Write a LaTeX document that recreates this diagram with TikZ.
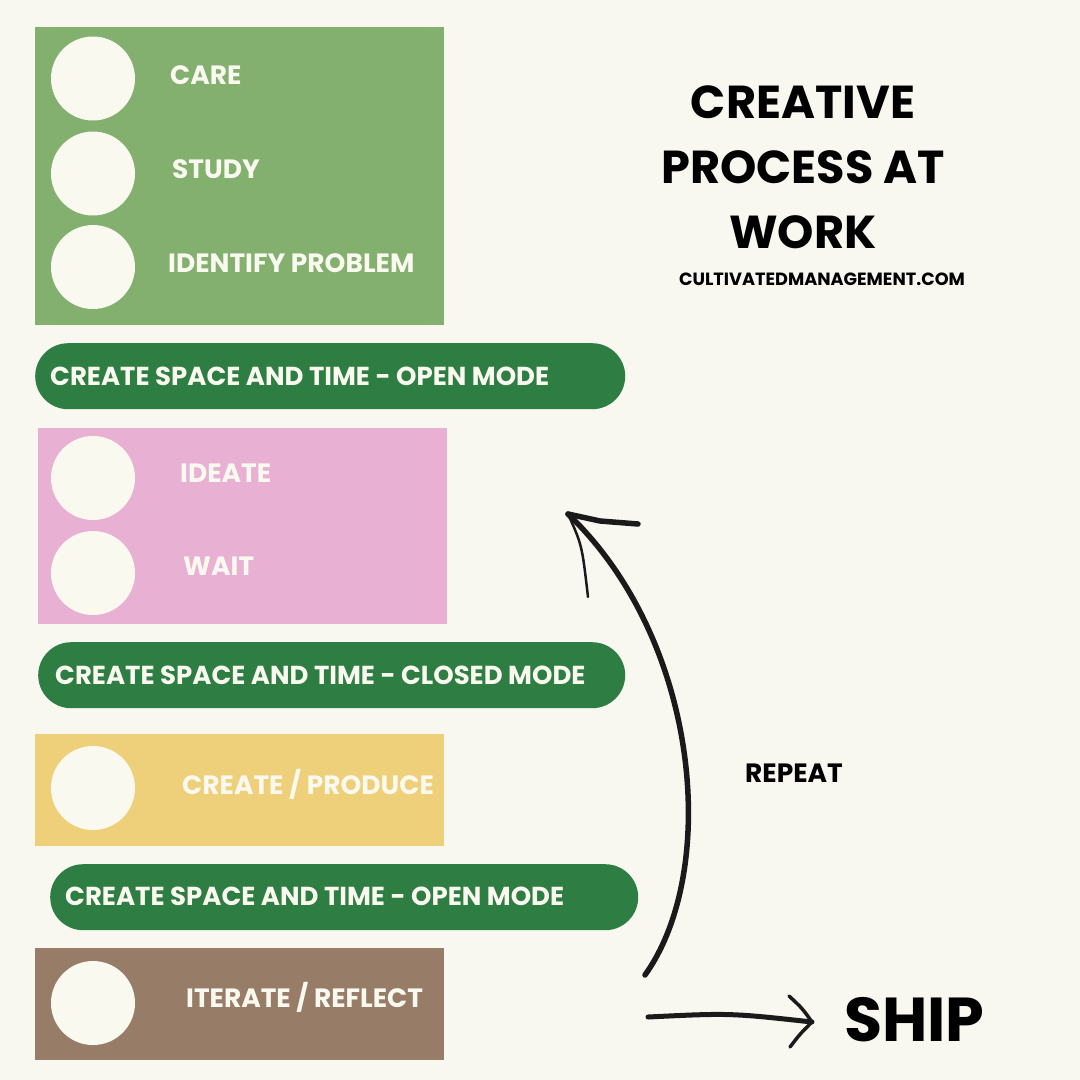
\documentclass[tikz,border=0pt]{standalone}
\usepackage{fontspec}
\setmainfont{Poppins}
\definecolor{bg}{HTML}{F8F8F0}
\definecolor{cream}{HTML}{FAF9F0}
\definecolor{sage}{HTML}{83B06F}
\definecolor{forest}{HTML}{2E7D42}
\definecolor{pink}{HTML}{E8B0D3}
\definecolor{mustard}{HTML}{EFD07A}
\definecolor{taupe}{HTML}{977D67}
\definecolor{ink}{HTML}{1A1A1A}
\tikzset{
  block/.style={rectangle, anchor=north west, inner sep=0, minimum width=409pt},
  pill/.style={rectangle, anchor=north west, inner sep=0, fill=forest, minimum height=66pt, rounded corners=33pt},
  dot/.style={circle, fill=cream, inner sep=0, minimum size=84pt},
  lbl/.style={anchor=west, inner sep=0, text=cream, font=\bfseries\fontsize{26.5}{30}\selectfont},
  plbl/.style={anchor=west, inner sep=0, text=cream, font=\bfseries\fontsize{26}{30}\selectfont},
  ttl/.style={inner sep=0, text=black, font=\bfseries\fontsize{46.2}{52}\selectfont},
  hand/.style={draw=ink, line width=5.5pt, line cap=round, line join=round}
}
\begin{document}
\begin{tikzpicture}[x=1pt,y=-1pt]
\fill[bg] (0,0) rectangle (1080,1080);
\useasboundingbox (0,0) rectangle (1080,1080);
% green block
\node[block, fill=sage, minimum height=298pt] (b1) at (35,27) {};
\node[dot] (c1) at (93,78.5) {};
\node[dot] (c2) at (93,173.5) {};
\node[dot] (c3) at (93,267) {};
\node[lbl] (t1) at (170,75) {CARE};
\node[lbl] (t2) at (172,169) {STUDY};
\node[lbl] (t3) at (168,263) {IDENTIFY PROBLEM};
% pill 1
\node[pill, minimum width=590pt] (p1) at (35,343) {};
\node[plbl] (pt1) at (50,376) {CREATE SPACE AND TIME - OPEN MODE};
% pink block
\node[block, fill=pink, minimum height=196pt] (b2) at (38,428) {};
\node[dot] (c4) at (93,478) {};
\node[dot] (c5) at (93,573) {};
\node[lbl] (t4) at (180,473) {IDEATE};
\node[lbl] (t5) at (183,566) {WAIT};
% pill 2
\node[pill, minimum width=587pt] (p2) at (38,642) {};
\node[plbl] (pt2) at (55,675) {CREATE SPACE AND TIME - CLOSED MODE};
% yellow block
\node[block, fill=mustard, minimum height=112pt] (b3) at (35,734) {};
\node[dot] (c6) at (93,788) {};
\node[lbl] (t6) at (182,784) {CREATE / PRODUCE};
% pill 3
\node[pill, minimum width=588pt] (p3) at (50,864) {};
\node[plbl] (pt3) at (65,896) {CREATE SPACE AND TIME - OPEN MODE};
% brown block
\node[block, fill=taupe, minimum height=112pt] (b4) at (35,948) {};
\node[dot] (c7) at (93,1003) {};
\node[lbl] (t7) at (186,997) {ITERATE / REFLECT};
% title
\node[ttl] (h1) at (803,102) {CREATIVE};
\node[ttl] (h2) at (803,167) {PROCESS AT};
\node[ttl] (h3) at (803,232) {WORK};
\node[inner sep=0, font=\bfseries\fontsize{17.7}{20}\selectfont] (url) at (822,279) {CULTIVATEDMANAGEMENT.COM};
\node[inner sep=0, anchor=west, font=\bfseries\fontsize{26.5}{30}\selectfont] (rep) at (745,773) {REPEAT};
\node[inner sep=0, anchor=west, font=\bfseries\fontsize{62}{68}\selectfont] (ship) at (844,1020) {SHIP};
% repeat arrow
\coordinate (r0) at (645,975);
\coordinate (r1) at (568,514);
\coordinate (rh1) at (638,524);
\coordinate (rh2) at (588,597);
\draw[hand] (r0) .. controls (720,870) and (700,640) .. (r1);
\draw[hand] (r1) -- (600,521) -- (rh1);
\draw[hand, line width=2.5pt] (r1) .. controls (582,545) .. (rh2);
% ship arrow
\coordinate (s0) at (648,1017);
\coordinate (s1) at (812,1022);
\coordinate (sh1) at (789,996);
\coordinate (sh2) at (790,1047);
\draw[hand, line width=5pt] (s0) .. controls (730,1013) .. (s1);
\draw[hand, line width=3.5pt] (sh1) .. controls (802,1008) .. (s1) .. controls (800,1034) .. (sh2);
\end{tikzpicture}
\end{document}
